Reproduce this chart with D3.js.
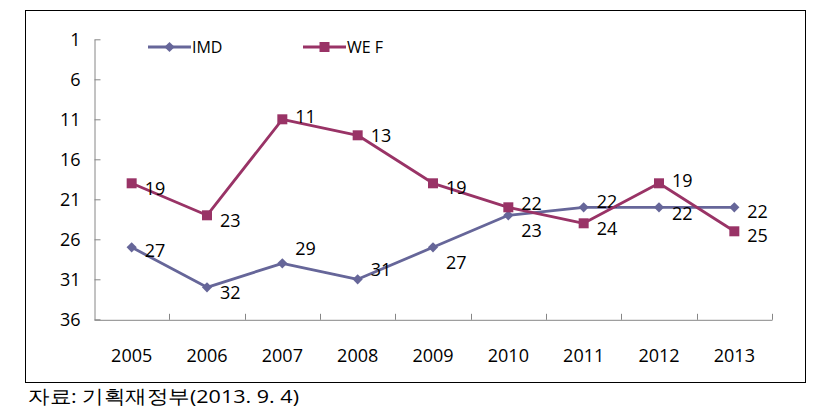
<!DOCTYPE html>
<html>
<head>
<meta charset="utf-8">
<script src="https://cdn.jsdelivr.net/npm/d3@7"></script>
<style>
  html, body { margin: 0; padding: 0; background: #fff; }
  svg { display: block; }
  text { font-family: "Open Sans", "Liberation Sans", sans-serif; fill: #000; }
</style>
</head>
<body>
<svg id="chart" width="818" height="413"></svg>
<script>
// ---- data ----
const years = ["2005", "2006", "2007", "2008", "2009", "2010", "2011", "2012", "2013"];
const imd = [27, 32, 29, 31, 27, 23, 22, 22, 22];
const wef = [19, 23, 11, 13, 19, 22, 24, 19, 25];
const yTicks = [1, 6, 11, 16, 21, 26, 31, 36];
const seriesNames = ["IMD", "WE F"];
// vertical nudges of the data labels (px, relative to marker)
const imdLabelDy = [3, 5, -15, -10, 15, 15, -6, 6, 4];
const wefLabelDy = [5, 5, -3, 0, 4, -4, 5, -3, 4];
const caption = "자료: 기획재정부(2013. 9. 4)";

const colors = { imd: "#666699", wef: "#993366" };

const svg = d3.select("#chart");

// outer frame
svg.append("rect")
  .attr("x", 25.5).attr("y", 10.5)
  .attr("width", 780).attr("height", 372)
  .attr("fill", "none").attr("stroke", "#000").attr("stroke-width", 1);

const x = d3.scaleBand().domain(years).range([94, 772]);
const y = d3.scaleLinear().domain([1, 36]).range([39.3, 319.3]);

const axisColor = "#868686";

// y axis
const gy = svg.append("g")
  .attr("transform", "translate(94.5,0)")
  .call(d3.axisLeft(y).tickValues(yTicks).tickSizeInner(-6).tickSizeOuter(0).tickPadding(14));
gy.select(".domain").attr("stroke", axisColor);
gy.selectAll(".tick line").attr("stroke", axisColor);
gy.selectAll(".tick text").attr("font-size", 18).attr("font-family", "Open Sans").attr("fill", "#000");

// x axis
const gx = svg.append("g")
  .attr("transform", "translate(0," + (y(36) + 0.5) + ")")
  .call(d3.axisBottom(x).tickSize(0).tickPadding(29));
gx.select(".domain").attr("stroke", axisColor);
gx.selectAll(".tick text").attr("font-size", 18).attr("font-family", "Open Sans").attr("fill", "#000");
// boundary tick marks (inside, pointing up)
const bounds = years.map(d => x(d)).concat([x.range()[1]]).slice(1);
gx.selectAll(".btick").data(bounds).enter().append("line")
  .attr("x1", d => Math.round(d) + 0.5).attr("x2", d => Math.round(d) + 0.5)
  .attr("y1", 0).attr("y2", -6)
  .attr("stroke", axisColor);

const cx = d => x(d) + x.bandwidth() / 2;

function drawSeries(values, color, shape, dys) {
  const line = d3.line().x((v, i) => cx(years[i])).y(v => y(v));
  svg.append("path").datum(values)
    .attr("d", line)
    .attr("fill", "none").attr("stroke", color)
    .attr("stroke-width", 2.8).attr("stroke-linejoin", "round");
  const sym = shape === "diamond"
    ? d3.symbol().type(d3.symbolSquare).size(52)
    : d3.symbol().type(d3.symbolSquare).size(100);
  svg.selectAll(null).data(values).enter().append("path")
    .attr("d", sym())
    .attr("transform", (v, i) => "translate(" + cx(years[i]) + "," + y(v) + ")" + (shape === "diamond" ? " rotate(45)" : ""))
    .attr("fill", color);
  svg.selectAll(null).data(values).enter().append("text")
    .attr("x", (v, i) => cx(years[i]) + 13)
    .attr("y", (v, i) => y(v) + dys[i])
    .attr("dy", "0.36em")
    .attr("font-size", 18)
    .text(v => v);
}

drawSeries(imd, colors.imd, "diamond", imdLabelDy);
drawSeries(wef, colors.wef, "square", wefLabelDy);

// legend
const legend = [
  { name: seriesNames[0], color: colors.imd, shape: "diamond", x0: 148 },
  { name: seriesNames[1], color: colors.wef, shape: "square", x0: 303 }
];
const ly = 47;
legend.forEach(l => {
  svg.append("line").attr("x1", l.x0).attr("x2", l.x0 + 43).attr("y1", ly).attr("y2", ly)
    .attr("stroke", l.color).attr("stroke-width", 2.8);
  const sym = l.shape === "diamond"
    ? d3.symbol().type(d3.symbolSquare).size(52)
    : d3.symbol().type(d3.symbolSquare).size(100);
  svg.append("path").attr("d", sym())
    .attr("transform", "translate(" + (l.x0 + 21.5) + "," + ly + ")" + (l.shape === "diamond" ? " rotate(45)" : ""))
    .attr("fill", l.color);
  svg.append("text").attr("x", l.x0 + 44).attr("y", ly).attr("dy", "0.36em")
    .attr("font-size", 16).text(l.name);
});

// caption
svg.append("text")
  .attr("x", 28).attr("y", 403)
  .attr("font-family", "'Liberation Serif', 'Noto Sans CJK KR', serif")
  .attr("font-size", 19)
  .attr("textLength", 271).attr("lengthAdjust", "spacingAndGlyphs")
  .text(caption);
</script>
</body>
</html>
